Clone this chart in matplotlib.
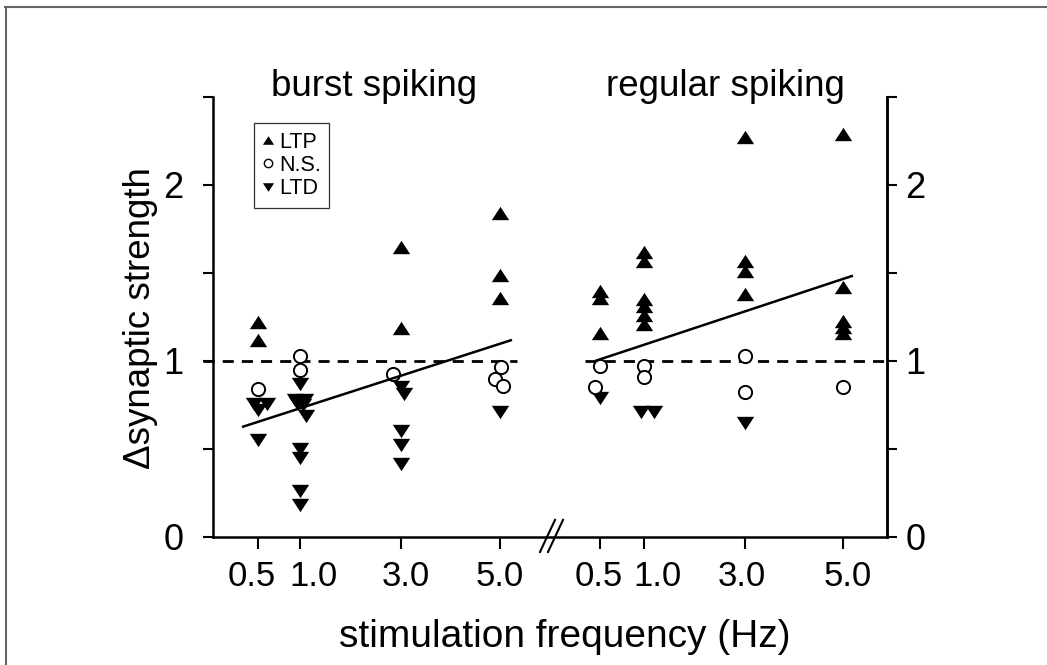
import matplotlib
matplotlib.use('Agg')
import matplotlib.pyplot as plt
from matplotlib.lines import Line2D
from matplotlib.transforms import ScaledTranslation

plt.rcParams['font.family'] = ['Liberation Sans', 'DejaVu Sans']

# ---------------- data ----------------
freq_labels = ['0.5', '1.0', '3.0', '5.0']

burst_ltp = [[1.22, 1.12], [], [1.65, 1.19], [1.84, 1.49, 1.36]]
burst_ns = [[0.84], [1.03, 0.95], [0.925], [0.965, 0.895, 0.86]]
burst_ltd = [[0.755, 0.755, 0.72, 0.55],
             [0.87, 0.78, 0.78, 0.76, 0.75, 0.69, 0.50, 0.45, 0.26, 0.18],
             [0.85, 0.81, 0.60, 0.52, 0.415],
             [0.71]]
burst_fit = [0.625, 1.12]

regular_ltp = [[1.40, 1.36, 1.16],
               [1.62, 1.57, 1.35, 1.31, 1.26, 1.21],
               [2.27, 1.57, 1.51, 1.38],
               [2.29, 1.42, 1.23, 1.195, 1.16]]
regular_ns = [[0.97, 0.855], [0.97, 0.91], [1.03, 0.825], [0.85]]
regular_ltd = [[0.79], [0.71, 0.71], [0.65], []]
regular_fit = [1.0, 1.485]

# ---------------- layout (x in units of 50 px from left spine) ----------------
burst_pos = [0.90, 1.74, 3.76, 5.74]
regular_pos = [7.74, 8.62, 10.64, 12.60]
burst_fit_x = [0.58, 5.98]
regular_fit_x = [7.64, 12.80]
XMAX = 13.48

# small horizontal offsets (px) for overlapping markers
burst_ns_dx = [[0], [0, 0], [-8], [1, -5, 3]]
burst_ltd_dx = [[-4, 9, 0, 0], [0, -5, 5, -3, 3, 6, 0, 0, 0, 0], [0, 3, 0, 0, 0], [0]]
regular_ns_dx = [[0, -5], [0, 0], [0, 0], [0]]
regular_ltd_dx = [[0], [-3, 10], [0], []]
# horizontal shifts (px) of the x tick labels
xtick_label_dx = [-6, 13, 5, 0, -1, 14, -3, 5]

W, H = 1047, 665


def fx(px):
    return px / W


def fy(py):
    return 1 - py / H


fig = plt.figure(figsize=(W / 100, H / 100), dpi=100)
ax = fig.add_axes([fx(213), fy(537), fx(887) - fx(213), fy(97) - fy(537)])
ax.set_xlim(0, XMAX)
ax.set_ylim(0, 2.5)

tri_up = [(-1, -0.77), (1, -0.77), (0, 0.77), (-1, -0.77)]
tri_down = [(-1, 0.77), (1, 0.77), (0, -0.77), (-1, 0.77)]
tri_kw = dict(linestyle='none', color='black', markersize=12.5, markeredgewidth=0, clip_on=False)
circ_kw = dict(linestyle='none', marker='o', markerfacecolor='white', markeredgecolor='black',
               markersize=9.5, markeredgewidth=1.4, clip_on=False)


def plot_group(pos, ltp, ns, ltd, ns_dx, ltd_dx):
    for i, p in enumerate(pos):
        if ltp[i]:
            ax.plot([p] * len(ltp[i]), ltp[i], marker=tri_up, **tri_kw, zorder=3)
        if ns[i]:
            xs = [p + d / 50 for d in ns_dx[i]]
            ax.plot(xs, ns[i], **circ_kw, zorder=4)
        if ltd[i]:
            xs = [p + d / 50 for d in ltd_dx[i]]
            ax.plot(xs, ltd[i], marker=tri_down, **tri_kw, zorder=3)


plot_group(burst_pos, burst_ltp, burst_ns, burst_ltd, burst_ns_dx, burst_ltd_dx)
plot_group(regular_pos, regular_ltp, regular_ns, regular_ltd, regular_ns_dx, regular_ltd_dx)

# regression lines
ax.plot(burst_fit_x, burst_fit, color='black', lw=1.8, zorder=5, solid_capstyle='butt')
ax.plot(regular_fit_x, regular_fit, color='black', lw=1.8, zorder=5, solid_capstyle='butt')

# dashed reference lines at 1
ax.plot([-0.2, 6.08], [1, 1], color='black', lw=2.0, dashes=(4, 2.9), clip_on=False, zorder=2)
ax.plot([7.44, XMAX], [1, 1], color='black', lw=2.0, dashes=(4, 2.9), clip_on=False, zorder=2)

# axis break marks
ax.plot([6.54, 6.84], [-0.085, 0.097], color='black', lw=1.5, clip_on=False)
ax.plot([6.70, 7.00], [-0.085, 0.097], color='black', lw=1.5, clip_on=False)

# spines & ticks
for s in ['left', 'bottom', 'right']:
    ax.spines[s].set_linewidth(1.8)
ax.spines['top'].set_visible(False)

ax.set_xticks(burst_pos + regular_pos)
ax.set_xticklabels(freq_labels + freq_labels)
ax.tick_params(axis='x', direction='out', length=8.6, width=1.5, labelsize=25, pad=8)
for lab, d in zip(ax.get_xticklabels(), xtick_label_dx):
    lab.set_transform(lab.get_transform() + ScaledTranslation(d / 100, 0, fig.dpi_scale_trans))

yt = [0, 0.5, 1, 1.5, 2, 2.5]
ytl = ['0', '', '1', '', '2', '']
ax.set_yticks(yt)
ax.set_yticklabels(ytl)
ax.tick_params(axis='y', direction='out', length=7.2, width=1.5, labelsize=26, pad=14,
               left=True, right=False)

ax2 = ax.twinx()
ax2.set_ylim(0, 2.5)
ax2.set_yticks(yt)
ax2.set_yticklabels(ytl)
ax2.tick_params(axis='y', direction='out', length=7.2, width=1.5, labelsize=26, pad=6)
for s in ['left', 'bottom', 'top']:
    ax2.spines[s].set_visible(False)
ax2.spines['right'].set_linewidth(1.8)

# titles and labels
fig.text(fx(374), fy(96), 'burst spiking', fontsize=26.5, ha='center', va='baseline')
fig.text(fx(725), fy(96), 'regular spiking', fontsize=26.5, ha='center', va='baseline')
fig.text(fx(565), fy(647), 'stimulation frequency (Hz)', fontsize=28, ha='center', va='baseline')
fig.text(fx(141), fy(318), '\u0394synaptic strength', fontsize=26.5, ha='center', va='center',
         rotation=90)

# legend
handles = [
    Line2D([], [], linestyle='none', marker=tri_up, color='black', markersize=8, markeredgewidth=0),
    Line2D([], [], linestyle='none', marker='o', markerfacecolor='white', markeredgecolor='black',
           markersize=6, markeredgewidth=1.0),
    Line2D([], [], linestyle='none', marker=tri_down, color='black', markersize=8, markeredgewidth=0),
]
leg = ax.legend(handles, ['LTP', 'N.S.', 'LTD'], loc='upper left',
                bbox_to_anchor=(fx(254), fy(123)), bbox_transform=fig.transFigure,
                frameon=True, fancybox=False, edgecolor='black', fontsize=15.5,
                handlelength=0.5, handletextpad=0.25, borderpad=0.4, labelspacing=0.11,
                borderaxespad=0)
leg.get_frame().set_linewidth(0.9)

# figure frame (top and left edges)
fig.add_artist(Line2D([fx(5), 1], [fy(7), fy(7)], color='#666666', lw=1.5, transform=fig.transFigure))
fig.add_artist(Line2D([fx(6), fx(6)], [fy(7), 0], color='#666666', lw=1.5, transform=fig.transFigure))

fig.savefig('out.png', dpi=100)
